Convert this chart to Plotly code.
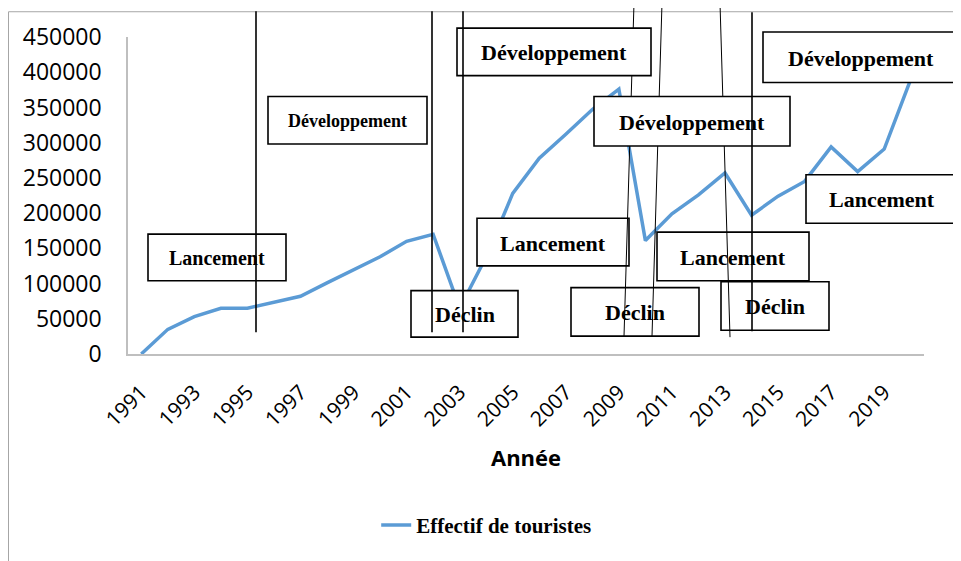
import plotly.graph_objects as go

annees = list(range(1991, 2021))
touristes = [0, 35000, 53000, 65000, 65000, 74000, 82000, 101000, 120000, 138000,
             160000, 170000, 65000, 138000, 228000, 278000, 312000, 347000, 376000, 161000,
             199000, 226000, 257000, 197000, 224000, 245000, 294000, 259000, 291000, 390000]
y_ticks = list(range(0, 450001, 50000))
x_ticks = list(range(1991, 2020, 2))

# plot area in page pixels (the page body adds an 8px offset)
L, R, T, B = 128, 924, 34, 354
OFF = 8


def px(x):
    return (x - L) / (R - L)


def py(y):
    return (B - y) / (B - T)


def box(x0, y0, x1, y1):
    return dict(type="rect", xref="paper", yref="paper", layer="above",
                x0=px(x0), x1=px(x1), y0=py(y1), y1=py(y0),
                line=dict(color="black", width=1.6), fillcolor="white")


def seg(x0, y0, x1, y1, w=1.6, col="black"):
    return dict(type="line", xref="paper", yref="paper", layer="above",
                x0=px(x0), x1=px(x1), y0=py(y0), y1=py(y1),
                line=dict(color=col, width=w))


# phase boxes: label, x0, y0, x1, y1, font size
phases_bas = [
    ("Lancement", 148, 233, 286, 280, 20),
    ("Développement", 268, 94, 427, 142, 18),
    ("Déclin", 411, 290, 518, 337, 22),
    ("Lancement", 477, 217, 629, 265, 22),
    ("Déclin", 571, 287, 699, 336, 22),
    ("Lancement", 657, 231, 809, 280, 22),
    ("Déclin", 721, 281, 829, 330, 22),
    ("Lancement", 806, 173, 958, 222, 22),
]
phases_haut = [
    ("Développement", 457, 25, 651, 73, 22),
    ("Développement", 763, 29, 958, 80, 22),
    ("Développement", 594, 94, 790, 144, 22),
]

# chart frame (left/top edges as close to the page edge as the figure allows)
shapes = [seg(8.5, 8.5, 8.5, 575, 1, "#A6A6A6"), seg(8.5, 8.5, 958, 8.5, 1, "#A6A6A6"),
          seg(958, 8.5, 958, 575, 1, "#A6A6A6")]
shapes += [box(*p[1:5]) for p in phases_bas]
shapes += [seg(634, 0, 624, 336, 1), seg(662, 0, 652, 336, 1), seg(720, 0, 730, 337, 1)]
shapes += [box(*p[1:5]) for p in phases_haut]
shapes += [seg(256, 8, 256, 332), seg(432, 8, 432, 332), seg(463, 8, 463, 332), seg(752, 9, 752, 331)]

annotations = []
for lab, x0, y0, x1, y1, fs in phases_bas + phases_haut:
    annotations.append(dict(text=lab, xref="paper", yref="paper", showarrow=False,
                            x=px((x0 + x1) / 2), y=py((y0 + y1) / 2 + 1),
                            xanchor="center", yanchor="middle",
                            font=dict(family="Liberation Serif", size=fs, color="black", weight="bold")))

fig = go.Figure()
fig.add_trace(go.Scatter(x=annees, y=touristes, mode="lines", name="<b>Effectif de touristes</b>",
                         line=dict(color="#5B9BD5", width=3.5)))

fig.update_layout(
    width=961, height=561,
    margin=dict(l=L - OFF, r=961 - (R - OFF), t=T - OFF, b=561 - (B - OFF)),
    plot_bgcolor="white", paper_bgcolor="white",
    shapes=shapes, annotations=annotations,
    showlegend=True,
    legend=dict(orientation="h", x=0.45, xanchor="center", y=py(527), yanchor="middle",
                font=dict(family="Liberation Serif", size=21, color="black")),
    xaxis=dict(range=[1990.5, 2020.5], tickvals=x_ticks, tickangle=-45, showgrid=False,
               showline=True, linecolor="#BFBFBF", linewidth=1.5, zeroline=False,
               tickfont=dict(family="Open Sans", size=21, color="black"), ticklabelstandoff=16,
               title=dict(text="Année", standoff=20,
                          font=dict(family="Open Sans", size=22, color="black", weight="bold"))),
    yaxis=dict(range=[0, 450000], tickvals=y_ticks, tickformat="d", showgrid=False,
               showline=True, linecolor="#BFBFBF", linewidth=1.5, zeroline=False,
               tickfont=dict(family="Open Sans", size=23, color="black"), ticklabelstandoff=20),
)

fig.write_html("out.html")
